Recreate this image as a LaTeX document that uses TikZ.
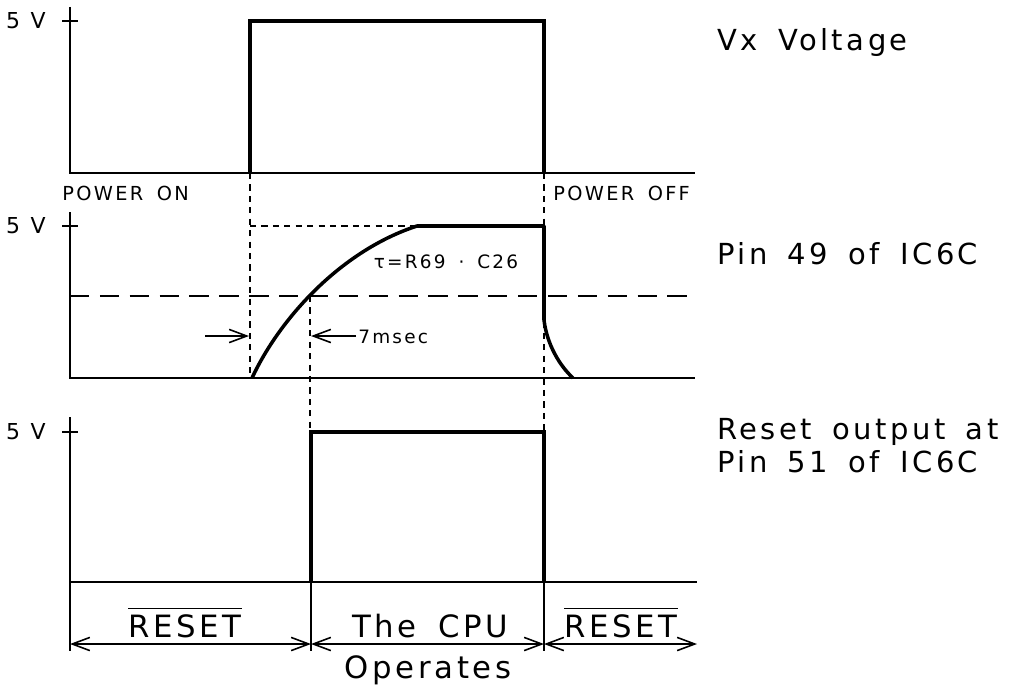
\documentclass[tikz,border=0pt]{standalone}
\usepackage{fontspec}
\setmainfont{DejaVu Sans}
\newfontfamily\cad[LetterSpace=12,WordSpace=1.6]{DejaVu Sans}
\usetikzlibrary{arrows.meta}
\newcommand\ovbar[1]{\vbox{\hrule height 0.7pt\kern 3pt\hbox{#1}}}
\begin{document}
\begin{tikzpicture}[x=0.02cm,y=-0.02cm,
  axisline/.style={line width=0.9pt},
  sig/.style={line width=2pt, line join=miter},
  guide/.style={line width=0.9pt, dash pattern=on 3.5pt off 3pt},
  thresh/.style={line width=0.9pt, dash pattern=on 11pt off 6pt},
  barb/.tip={Straight Barb[length=10pt,width=7.5pt,line width=0.9pt]},
  dimline/.style={line width=0.8pt},
  lbl/.style={font=\cad\fontsize{16.5}{18}\selectfont, anchor=west, inner sep=0pt},
  big/.style={font=\cad\fontsize{17.5}{20}\selectfont, inner sep=0pt},
  small/.style={font=\cad\fontsize{11}{13}\selectfont, inner sep=0pt},
  tiny/.style={font=\cad\fontsize{10.5}{12}\selectfont, inner sep=0pt},
  volt/.style={font=\fontsize{12.5}{14}\selectfont, inner sep=0pt, anchor=east}]
\useasboundingbox (0,0) rectangle (1018,686);

% ---------- Top panel: Vx Voltage ----------
\coordinate (a1top) at (70,7);
\coordinate (a1o) at (70,173);
\coordinate (a1end) at (695,173);
\draw[axisline] (a1top) -- (a1o) -- (a1end);
\draw[axisline] (62,21) -- (78,21);
\node[volt] (v1) at (46,21) {5\hspace{6pt}V};
\coordinate (p1a) at (250,173);
\coordinate (p1b) at (250,21);
\coordinate (p1c) at (544,21);
\coordinate (p1d) at (544,173);
\draw[sig] (p1a) -- (p1b) -- (p1c) -- (p1d);
\node[small, anchor=west] (pon) at (62,193) {POWER ON};
\node[small, anchor=west] (poff) at (553,193) {POWER OFF};
\node[lbl] (lvx) at (717,43) {Vx Voltage};

% ---------- Middle panel: Pin 49 ----------
\coordinate (a2top) at (70,212);
\coordinate (a2o) at (70,378);
\coordinate (a2end) at (695,378);
\draw[axisline] (a2top) -- (a2o) -- (a2end);
\draw[axisline] (62,226) -- (78,226);
\node[volt] (v2) at (46,226) {5\hspace{6pt}V};
\coordinate (th1) at (70,296);
\coordinate (th2) at (695,296);
\draw[thresh] (th1) -- (th2);
% guides
\draw[guide] (p1a) -- (250,378);
\draw[guide] (250,226) -- (417,226);
\draw[guide] (p1d) -- (544,432);
\draw[guide] (310,296) -- (310,432);
% signal
\coordinate (c0) at (252,378);
\coordinate (c1) at (417,226);
\coordinate (c2) at (544,226);
\coordinate (c3) at (544,320);
\coordinate (c4) at (573,378);
\draw[sig, line join=round] (c0) .. controls (281,316) and (343,250) .. (c1) -- (c2) -- (c3) .. controls (547,345) and (560,366) .. (c4);
% 7msec arrows
\coordinate (ar1) at (205,336);
\coordinate (ar1e) at (249,336);
\coordinate (ar2) at (356,336);
\coordinate (ar2e) at (311,336);
\draw[dimline, -barb] (ar1) -- (ar1e);
\draw[dimline, -barb] (ar2) -- (ar2e);
\node[tiny, anchor=west] (ms) at (358,337) {7msec};
\node[tiny] (tau) at (446,262) {τ=R69 · C26};
\node[lbl] (l49) at (717,254) {Pin 49 of IC6C};

% ---------- Bottom panel: Reset output ----------
\coordinate (a3top) at (70,417);
\coordinate (a3o) at (70,582);
\coordinate (a3end) at (697,582);
\draw[axisline] (a3top) -- (a3o) -- (a3end);
\draw[axisline] (62,432) -- (78,432);
\node[volt] (v3) at (46,432) {5\hspace{6pt}V};
\draw[sig] (311,582) -- (311,432) -- (544,432) -- (544,582);
\node[lbl] (l51a) at (717,432) {Reset output at};
\node[lbl] (l51b) at (717,462) {Pin 51 of IC6C};

% dimension lines
\coordinate (d0) at (70,651);
\coordinate (d1) at (311,651);
\coordinate (d2) at (544,651);
\draw[dimline] (a3o) -- (d0);
\draw[dimline] (311,582) -- (d1);
\draw[dimline] (544,582) -- (d2);
\coordinate (e0) at (70,644);
\coordinate (e1) at (311,644);
\coordinate (e2) at (544,644);
\coordinate (e3) at (697,644);
\draw[dimline, barb-barb] (e0) -- (e1);
\draw[dimline, barb-barb] (e1) -- (e2);
\draw[dimline, barb-barb] (e2) -- (e3);
\node[big, anchor=base] (rs1) at (185,637) {\ovbar{RESET}};
\node[big, anchor=base] (cpu) at (430,637) {The CPU};
\node[big, anchor=base] (ops) at (428,678) {Operates};
\node[big, anchor=base] (rs2) at (621,637) {\ovbar{RESET}};
\end{tikzpicture}
\end{document}
